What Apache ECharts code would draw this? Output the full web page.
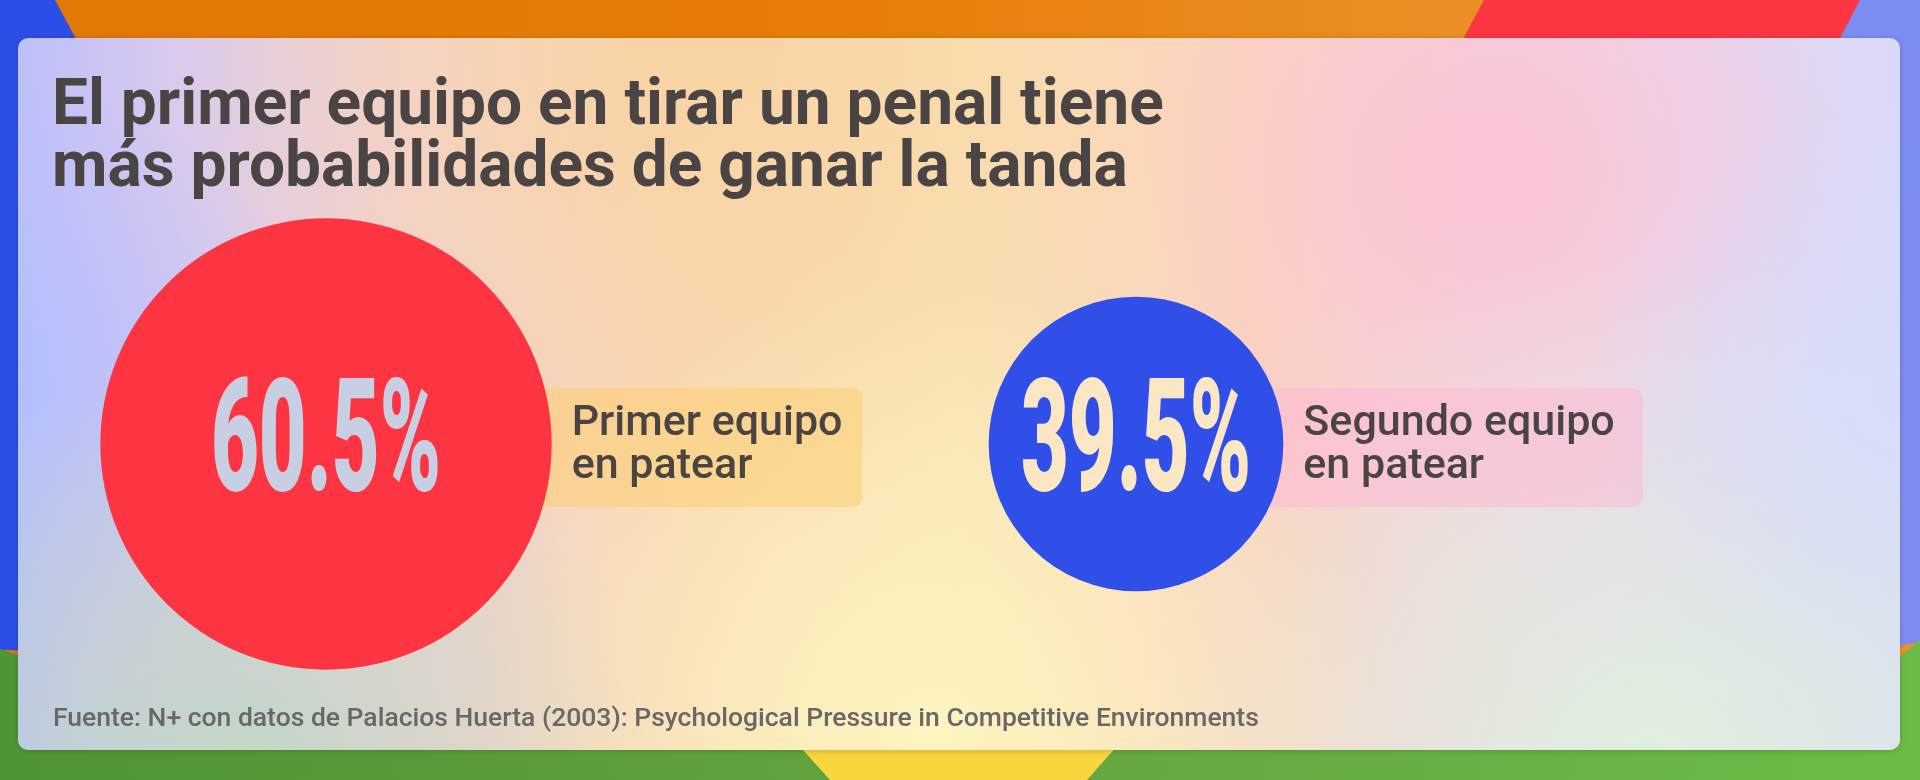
<!DOCTYPE html>
<html><head><meta charset="utf-8">
<script src="https://cdn.jsdelivr.net/npm/echarts@6/dist/echarts.min.js"></script>
<style>html,body{margin:0;padding:0;background:#e77c08}#c{width:1920px;height:780px}</style>
</head><body><div id="c"></div>
<script>
// ---- data ----
const titleText = 'El primer equipo en tirar un penal tiene\nmás probabilidades de ganar la tanda';
const sourceText = 'Fuente: N+ con datos de Palacios Huerta (2003): Psychological Pressure in Competitive Environments';
const categories = ['Primer equipo\nen patear', 'Segundo equipo\nen patear'];
const values = [60.5, 39.5];

// ---- styles ----
const circleColors = ['#fd3441', '#304ee8'];
const pctColors = ['#c9cfe2', '#fbe7c4'];
const boxColors = ['rgba(253,205,115,0.55)', 'rgba(255,182,212,0.5)'];
const boxPads = [20, 28];
const K = 3.73; // px of radius per percentage point
const labelFont = '500 43px Roboto';

const mc = document.createElement('canvas').getContext('2d');
function measure(t, f){ mc.font = f; return mc.measureText(t).width; }

const chart = echarts.init(document.getElementById('c'), null, {renderer:'canvas'});

const P = {x:18, y:38, w:1882, h:712};
function blob(cx, cy, r, color){
  return {type:'rect', z:-5, shape:{x:P.x, y:P.y, width:P.w, height:P.h, r:10},
    style:{fill:{type:'radial', x:cx, y:cy, r:r, global:true,
      colorStops:[{offset:0, color:color},{offset:1, color:color.replace(/[\d.]+\)$/, '0)')}]}}};
}

const option = {
  animation:false,
  backgroundColor:'#e77c08',
  title:[
    {text:titleText, left:47, top:72,
     textStyle:{fontFamily:'Roboto', fontWeight:'bold', fontSize:64, lineHeight:62, color:'#4a4544'}},
    {text:sourceText, left:48, top:701,
     textStyle:{fontFamily:'Roboto', fontWeight:500, fontSize:26.5, color:'#686868'}}
  ],
  grid:{left:326, right:784, top:344, height:200},
  xAxis:{type:'category', data:categories, boundaryGap:false, show:false},
  yAxis:{type:'value', min:-1, max:1, show:false},
  graphic:[
    // outer background
    {type:'rect', z:-20, shape:{x:0,y:0,width:1920,height:780},
     style:{fill:{type:'linear',x:0,y:0,x2:1,y2:0,colorStops:[{offset:0,color:'#e27805'},{offset:0.45,color:'#e77d08'},{offset:0.75,color:'#eb8f24'},{offset:1,color:'#ec9226'}]}}},
    {type:'polygon', z:-19, shape:{points:[[1600,0],[1920,0],[1920,642],[1600,700]]}, style:{fill:'#7b8df2'}},
    {type:'polygon', z:-18, shape:{points:[[1484,0],[1860,0],[1660,380],[1280,380]]}, style:{fill:'#fc3543'}},
    {type:'polygon', z:-18, shape:{points:[[0,0],[55,0],[260,380],[260,655],[0,650]]}, style:{fill:'#2d4ee6'}},
    {type:'polygon', z:-17, shape:{points:[[0,649],[60,670],[960,745],[1860,690],[1920,640],[1920,780],[0,780]]},
     style:{fill:{type:'linear',x:0,y:0,x2:1,y2:0,colorStops:[{offset:0,color:'#4f9534'},{offset:0.5,color:'#63a43e'},{offset:1,color:'#6cbb48'}]}}},
    {type:'polygon', z:-16, shape:{points:[[776,720],[1140,720],[1087,780],[830,780]]}, style:{fill:'#f8d63e'}},
    // panel base
    {type:'rect', z:-10, shape:{x:P.x,y:P.y,width:P.w,height:P.h,r:10},
     style:{shadowBlur:6, shadowColor:'rgba(0,0,0,0.18)', shadowOffsetY:1,
       fill:{type:'linear',x:0,y:0,x2:1,y2:0,colorStops:[
        {offset:0,color:'#bcc0fa'},{offset:0.08,color:'#d8c9ee'},{offset:0.2,color:'#f0d2d6'},
        {offset:0.35,color:'#f8d8b6'},{offset:0.5,color:'#f9e2b4'},{offset:0.66,color:'#fbd2c2'},
        {offset:0.83,color:'#f0d4ea'},{offset:1,color:'#d9daf8'}]}}},
    blob(700, 40, 520, 'rgba(249,210,160,0.85)'),
    blob(1500, 170, 360, 'rgba(253,192,208,0.8)'),
    blob(20, 380, 300, 'rgba(178,190,255,0.75)'),
    blob(930, 740, 460, 'rgba(253,244,192,1)'),
    blob(230, 770, 420, 'rgba(192,216,196,0.95)'),
    blob(1650, 770, 520, 'rgba(222,240,222,1)'),
    blob(1880, 400, 300, 'rgba(214,220,250,0.8)')
  ],
  series:[{
    type:'custom',
    clip:false,
    data: values.map((v,i)=>[i, 0, v]),
    renderItem:function(params, api){
      const i = api.value(0);
      const v = api.value(2);
      const pt = api.coord([i, api.value(1)]);
      const r = v * K;
      const lines = categories[i].split('\n');
      const tw = Math.max.apply(null, lines.map(l=>measure(l, labelFont)));
      const tx = pt[0] + r + 20;
      const boxRight = tx + tw + boxPads[i];
      return {type:'group', children:[
        {type:'rect', shape:{x:pt[0], y:pt[1]-56, width:boxRight-pt[0], height:119, r:10},
         style:{fill:boxColors[i]}},
        {type:'circle', shape:{cx:pt[0], cy:pt[1], r:r}, style:{fill:circleColors[i]}},
        {type:'text', x:pt[0], y:pt[1]+6, scaleX:0.523,
         style:{text:v.toFixed(1)+'%', x:0, y:0, fill:pctColors[i],
                font:'900 158px Roboto', align:'center', verticalAlign:'middle'}},
        {type:'text', x:tx, y:pt[1]+2,
         style:{text:categories[i], x:0, y:0, fill:'#4a4543', font:labelFont, lineHeight:43,
                align:'left', verticalAlign:'middle'}}
      ]};
    }
  }]
};
chart.setOption(option);
</script></body></html>
